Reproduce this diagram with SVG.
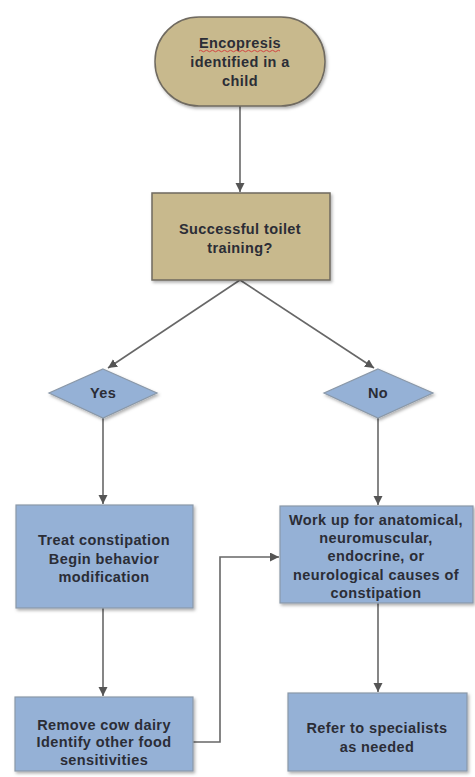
<svg xmlns="http://www.w3.org/2000/svg" width="475" height="777" viewBox="0 0 475 777">
<style>
.tan{fill:#c8b98d;stroke:#6f6a60;stroke-width:1.5}
.blue{fill:#95b1d6;stroke:#8a98a8;stroke-width:1.2}
.t{font-family:"Liberation Sans",Arial,sans-serif;font-weight:bold;font-size:14.5px;letter-spacing:0.4px;fill:#2b2d36;text-anchor:middle}
.c{fill:none;stroke:#676767;stroke-width:1.6}
</style>
<defs>
<marker id="ah" markerWidth="10" markerHeight="10" refX="9" refY="4.5" orient="auto" markerUnits="userSpaceOnUse">
<path d="M0,0 L9,4.5 L0,9 Z" fill="#555"/>
</marker>
<filter id="sh" x="-10%" y="-10%" width="130%" height="130%">
<feDropShadow dx="1.5" dy="2" stdDeviation="1.5" flood-color="#000" flood-opacity="0.3"/>
</filter>
</defs>
<rect width="475" height="777" fill="#ffffff"/>
<g id="connectors">
<line class="c" x1="240" y1="106" x2="240" y2="192" marker-end="url(#ah)"/>
<line class="c" x1="240" y1="280" x2="108" y2="368" marker-end="url(#ah)"/>
<line class="c" x1="240" y1="280" x2="374" y2="368" marker-end="url(#ah)"/>
<line class="c" x1="103" y1="418" x2="103" y2="504" marker-end="url(#ah)"/>
<line class="c" x1="378" y1="418" x2="378" y2="505" marker-end="url(#ah)"/>
<line class="c" x1="103" y1="608" x2="103" y2="696" marker-end="url(#ah)"/>
<line class="c" x1="378" y1="603" x2="378" y2="692" marker-end="url(#ah)"/>
<polyline class="c" points="193,742 220,742 220,557 279,557" marker-end="url(#ah)"/>
</g>
<g id="start">
<rect class="tan" x="155" y="17" width="170" height="89" rx="44" ry="44" filter="url(#sh)"/>
<text class="t" x="240" y="48">Encopresis</text>
<path d="M199,51 q1.5,-1.5 3,0 t3,0 t3,0 t3,0 t3,0 t3,0 t3,0 t3,0 t3,0 t3,0 t3,0 t3,0 t3,0 t3,0 t3,0 t3,0 t3,0 t3,0 t3,0 t3,0 t3,0 t3,0 t3,0 t3,0 t3,0 t3,0 t3,0" fill="none" stroke="#d23a3a" stroke-width="0.9"/>
<text class="t" x="240" y="67">identified in a</text>
<text class="t" x="240" y="86">child</text>
</g>
<g id="question">
<rect class="tan" x="152" y="193" width="178" height="87" filter="url(#sh)"/>
<text class="t" x="240" y="234">Successful toilet</text>
<text class="t" x="240" y="253">training?</text>
</g>
<g id="yes">
<polygon class="blue" points="103,369 157,393 103,418 49,393" filter="url(#sh)"/>
<text class="t" x="103" y="398">Yes</text>
</g>
<g id="no">
<polygon class="blue" points="378,369 433,393 378,418 324,393" filter="url(#sh)"/>
<text class="t" x="378" y="398">No</text>
</g>
<g id="treat">
<rect class="blue" x="16" y="505" width="177" height="103" filter="url(#sh)"/>
<text class="t" x="104" y="545">Treat constipation</text>
<text class="t" x="104" y="564">Begin behavior</text>
<text class="t" x="104" y="582">modification</text>
</g>
<g id="workup">
<rect class="blue" x="280" y="506" width="193" height="97" filter="url(#sh)"/>
<text class="t" x="376" y="525">Work up for anatomical,</text>
<text class="t" x="376" y="543">neuromuscular,</text>
<text class="t" x="376" y="561">endocrine, or</text>
<text class="t" x="376" y="580">neurological causes of</text>
<text class="t" x="376" y="598">constipation</text>
</g>
<g id="remove">
<rect class="blue" x="15" y="697" width="178" height="74" filter="url(#sh)"/>
<text class="t" x="104" y="730">Remove cow dairy</text>
<text class="t" x="104" y="747">Identify other food</text>
<text class="t" x="104" y="765">sensitivities</text>
</g>
<g id="refer">
<rect class="blue" x="288" y="693" width="179" height="78" filter="url(#sh)"/>
<text class="t" x="377" y="733">Refer to specialists</text>
<text class="t" x="377" y="752">as needed</text>
</g>
</svg>
